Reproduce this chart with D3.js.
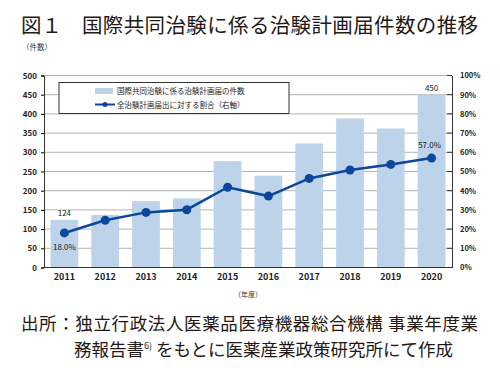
<!DOCTYPE html>
<html><head><meta charset="utf-8">
<script src="https://cdn.jsdelivr.net/npm/d3@7"></script>
<style>body{margin:0;background:#fff}text{font-family:"Noto Sans CJK JP","Noto Sans",sans-serif}</style>
</head><body><svg id="c" width="500" height="378"></svg>
<script>
const years = ["2011","2012","2013","2014","2015","2016","2017","2018","2019","2020"];
const counts = [124,137,173,180,277,239,323,388,362,450];
const ratios = [18.0,24.6,28.7,30.1,41.8,37.2,46.4,50.8,53.7,57.0];
const leftTicks = [0,50,100,150,200,250,300,350,400,450,500];
const rightTicks = [0,10,20,30,40,50,60,70,80,90,100];
const barLabels = {"2011":"124","2020":"450"};
const lineLabels = {"2011":"18.0%","2020":"57.0%"};

const svg = d3.select("#c");
const L=44, R=452, T=75.5, B=267.5;
const x = d3.scaleBand().domain(years).range([L,R]).paddingInner(0.32).paddingOuter(0.16);
const y = d3.scaleLinear().domain([0,500]).range([B,T]);
const y2 = d3.scaleLinear().domain([0,100]).range([B,T]);
const barCol="#bcd3e9", lineCol="#0b479c";

// title
svg.append("text").attr("x",21).attr("y",33).attr("font-size",20.5).attr("fill","#231815").text("図１");
svg.append("text").attr("x",82).attr("y",33).attr("font-size",20.5).attr("fill","#231815").attr("textLength",396).text("国際共同治験に係る治験計画届件数の推移");
svg.append("text").attr("x",22).attr("y",50).attr("font-size",7.5).attr("fill","#333").text("（件数）");

// gridlines
svg.append("g").selectAll("line").data(leftTicks.filter(d=>d>0)).join("line")
  .attr("x1",L).attr("x2",R).attr("y1",d=>y(d)).attr("y2",d=>y(d))
  .attr("stroke","#b4b4b4").attr("stroke-width",1);

// bars
svg.append("g").selectAll("rect").data(years).join("rect")
  .attr("x",d=>x(d)).attr("width",x.bandwidth())
  .attr("y",(d,i)=>y(counts[i])).attr("height",(d,i)=>B-y(counts[i]))
  .attr("fill",barCol);

// axes
const ax = svg.append("g").attr("transform",`translate(${L},0)`)
  .call(d3.axisLeft(y).tickValues(leftTicks).tickSize(3).tickPadding(4));
ax.select(".domain").attr("stroke","#333");
ax.selectAll("text").attr("font-size",8).attr("font-weight","bold").attr("fill","#222").attr("font-family","Roboto, 'Liberation Sans', sans-serif");
const ax2 = svg.append("g").attr("transform",`translate(${R},0)`)
  .call(d3.axisRight(y2).tickValues(rightTicks).tickSize(0).tickPadding(8).tickFormat(d=>d+"%"));
ax2.select(".domain").attr("stroke","#333");
ax2.selectAll("text").attr("font-size",7.5).attr("font-weight","bold").attr("fill","#222").attr("font-family","Roboto, 'Liberation Sans', sans-serif");
svg.append("g").selectAll("line").data(rightTicks).join("line")
  .attr("x1",R-5).attr("x2",R).attr("y1",d=>y2(d)).attr("y2",d=>y2(d)).attr("stroke","#333");
const bx = svg.append("g").attr("transform",`translate(0,${B})`)
  .call(d3.axisBottom(x).tickSize(0).tickPadding(6));
bx.select(".domain").attr("stroke","#333").attr("d",`M${L},0H${R}`);
bx.selectAll("text").attr("font-size",9).attr("font-weight","bold").attr("fill","#222").attr("font-family","Roboto, 'Liberation Sans', sans-serif");
svg.append("text").attr("x",248).attr("y",297).attr("text-anchor","middle").attr("font-size",7).attr("fill","#333").text("（年度）");

// line
const cx = d=>x(d)+x.bandwidth()/2;
svg.append("path").datum(years).attr("fill","none").attr("stroke",lineCol).attr("stroke-width",2.5)
  .attr("d",d3.line().x(d=>cx(d)).y((d,i)=>y2(ratios[i])));
svg.append("g").selectAll("circle").data(years).join("circle")
  .attr("cx",d=>cx(d)).attr("cy",(d,i)=>y2(ratios[i])).attr("r",4.5).attr("fill",lineCol);

// labels
years.forEach((d,i)=>{
  if(barLabels[d]) svg.append("text").attr("x",cx(d)).attr("y",y(counts[i])-4).attr("text-anchor","middle")
    .attr("font-size",8).attr("fill","#222").attr("font-family","Roboto, 'Liberation Sans', sans-serif").text(barLabels[d]);
});
svg.append("text").attr("x",cx("2011")).attr("y",y2(ratios[0])+17).attr("text-anchor","middle")
  .attr("font-size",8).attr("fill","#222").attr("font-family","Roboto, 'Liberation Sans', sans-serif").text(lineLabels["2011"]);
svg.append("text").attr("x",cx("2020")-2).attr("y",y2(ratios[9])-10).attr("text-anchor","middle")
  .attr("font-size",8).attr("fill","#222").attr("font-family","Roboto, 'Liberation Sans', sans-serif").text(lineLabels["2020"]);

// legend
const lg = svg.append("g");
lg.append("rect").attr("x",59).attr("y",82.5).attr("width",230).attr("height",31).attr("fill","#fff").attr("stroke","#333").attr("stroke-width",1);
lg.append("rect").attr("x",95).attr("y",88).attr("width",18).attr("height",6).attr("fill",barCol);
lg.append("text").attr("x",117).attr("y",94).attr("font-size",7.5).attr("fill","#222").text("国際共同治験に係る治験計画届の件数");
lg.append("line").attr("x1",95).attr("x2",115).attr("y1",104.5).attr("y2",104.5).attr("stroke",lineCol).attr("stroke-width",2);
lg.append("circle").attr("cx",105).attr("cy",104.5).attr("r",2.5).attr("fill",lineCol);
lg.append("text").attr("x",117).attr("y",107.5).attr("font-size",7.5).attr("fill","#222").text("全治験計画届出に対する割合（右軸）");

// footer
svg.append("text").attr("x",21).attr("y",330).attr("font-size",17.5).attr("fill","#231815").attr("textLength",457)
  .text("出所：独立行政法人医薬品医療機器総合機構 事業年度業");
const f2 = svg.append("text").attr("x",74).attr("y",356).attr("font-size",17.5).attr("fill","#231815");
f2.append("tspan").text("務報告書");
f2.append("tspan").attr("font-size",9).attr("dy",-7).text("6)");
f2.append("tspan").attr("dy",7).text(" をもとに医薬産業政策研究所にて作成");
</script></body></html>
